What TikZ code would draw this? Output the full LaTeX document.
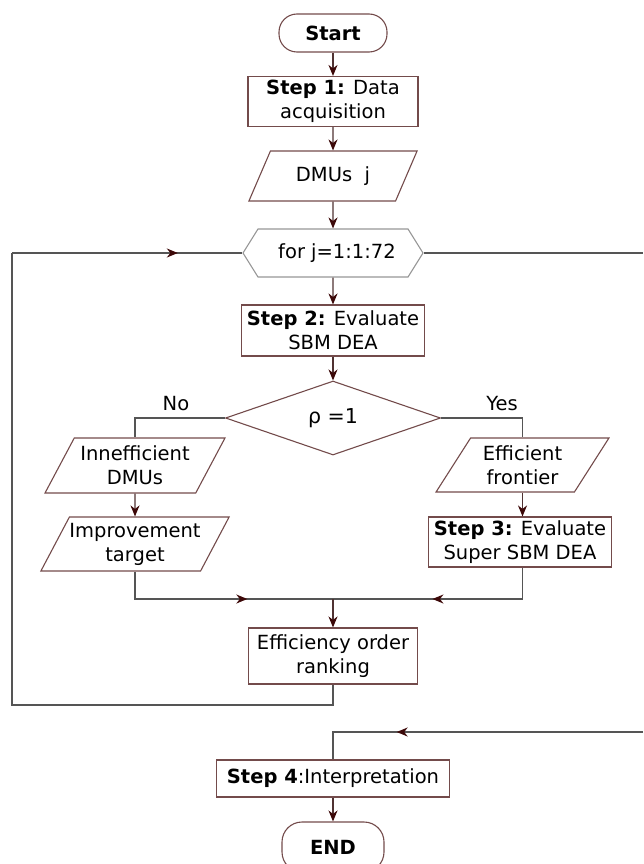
\documentclass[tikz,border=0pt]{standalone}
\usepackage{fontspec}
\setmainfont{DejaVu Sans}
\usetikzlibrary{shapes.geometric,shapes.symbols,arrows.meta,decorations.markings}
\definecolor{boxline}{RGB}{115,75,75}
\definecolor{flowline}{RGB}{85,85,85}
\definecolor{arrline}{RGB}{80,50,50}
\definecolor{tipred}{RGB}{60,8,8}
\definecolor{hexline}{RGB}{150,150,150}

\begin{document}
\begin{tikzpicture}
        [x=1pt, y=1pt,
        every node/.style={font=\fontsize{19.5}{24}\selectfont},
        term/.style={rectangle, rounded corners=18pt, draw=boxline, line width=1.1pt, minimum width=108pt, minimum height=38pt, inner sep=0pt},
        proc/.style={rectangle, draw=boxline, line width=1.1pt, align=center, inner sep=0pt},
        io/.style={trapezium, trapezium left angle=56, trapezium right angle=124, trapezium stretches=true, draw=boxline, line width=1.1pt, align=center, inner sep=0pt},
        loopbox/.style={signal, signal to=west and east, signal pointer angle=116, draw=hexline, line width=1.1pt, minimum width=180pt, minimum height=48pt, inner sep=0pt},
        decide/.style={diamond, aspect=2.9, draw=boxline, line width=1.1pt, minimum width=215pt, minimum height=74pt, inner sep=0pt},
        flow/.style={draw=flowline, line width=1.5pt},
        arr/.style={draw=arrline, line width=1.2pt, -{Stealth[length=11pt, width=9pt, inset=3.5pt, color=tipred]}},
        midarrow/.style={flow, postaction={decorate}, decoration={markings, mark=at position #1 with {\arrow{Stealth[length=11pt, width=9pt, inset=3.5pt, color=tipred]}}}}]
        \useasboundingbox (0,0) rectangle (643,-864);

        \node[term] (start) at (333,-33) {\textbf{Start}};
        \node[proc, minimum width=170pt, minimum height=50pt] (step1) at (333,-101.5) {\textbf{Step 1:} Data\\acquisition};
        \node[io, minimum width=169pt, minimum height=50pt] (dmus) at (333,-176) {DMUs~~j};
        \node[loopbox] (forloop) at (333,-253) {\hspace{8pt}for j=1:1:72};
        \node[proc, minimum width=183pt, minimum height=51pt] (step2) at (333,-330.5) {\textbf{Step 2:} Evaluate\\SBM DEA};
        \node[decide] (rho) at (333,-418) {\fontsize{20.5}{24}\selectfont ρ =1};
        \node (no) at (176,-404) {No};
        \node (yes) at (502,-404) {Yes};
        \node[io, minimum width=180pt, minimum height=55pt] (ineff) at (135,-465.5) {Innefficient\\DMUs};
        \node[io, minimum width=180pt, minimum height=54pt] (improve) at (135,-544) {Improvement\\target};
        \node[io, minimum width=173pt, minimum height=54pt] (effic) at (522.5,-465) {Efficient\\frontier};
        \node[proc, minimum width=183pt, minimum height=50pt] (step3) at (520,-542) {\textbf{Step 3:} Evaluate\\Super SBM DEA};
        \node[proc, minimum width=169pt, minimum height=56pt] (rank) at (333,-656) {Efficiency order\\ranking};
        \node[proc, minimum width=233pt, minimum height=37pt] (step4) at (333,-778.5) {\textbf{Step 4}:Interpretation};
        \node[term, minimum width=102pt, minimum height=50pt, rounded corners=20pt] (finish) at (333,-847) {\textbf{END}};

        \coordinate (merge) at (333,-599);
        \coordinate (lb) at (12,-705);
        \coordinate (lt) at (12,-253);
        \coordinate (re1) at (643,-253);
        \coordinate (re2) at (643,-732);

        \draw[arr] (start) -- (step1);
        \draw[arr] (step1) -- (dmus);
        \draw[arr] (dmus) -- (forloop);
        \draw[arr] (forloop) -- (step2);
        \draw[arr] (step2) -- (rho);

        \draw[flow] (rho.west) -| (ineff.north);
        \draw[flow] (rho.east) -| (effic.north);
        \draw[arr] (ineff) -- (improve);
        \draw[arr] (effic.south) -- (effic.south |- step3.north);
        \draw[midarrow=0.62] (improve.south) |- (merge);
        \draw[midarrow=0.55] (effic.south |- step3.south) |- (merge);
        \draw[arr] (merge) -- (rank);

        \draw[flow] (rank.south) |- (lb) -- (lt);
        \draw[midarrow=0.72] (lt) -- (forloop.west);
        \draw[flow] (forloop.east) -- (re1);
        \draw[midarrow=0.73] (re2) -| (step4.north);
        \draw[arr] (step4) -- (finish);

    \end{tikzpicture}
\end{document}
